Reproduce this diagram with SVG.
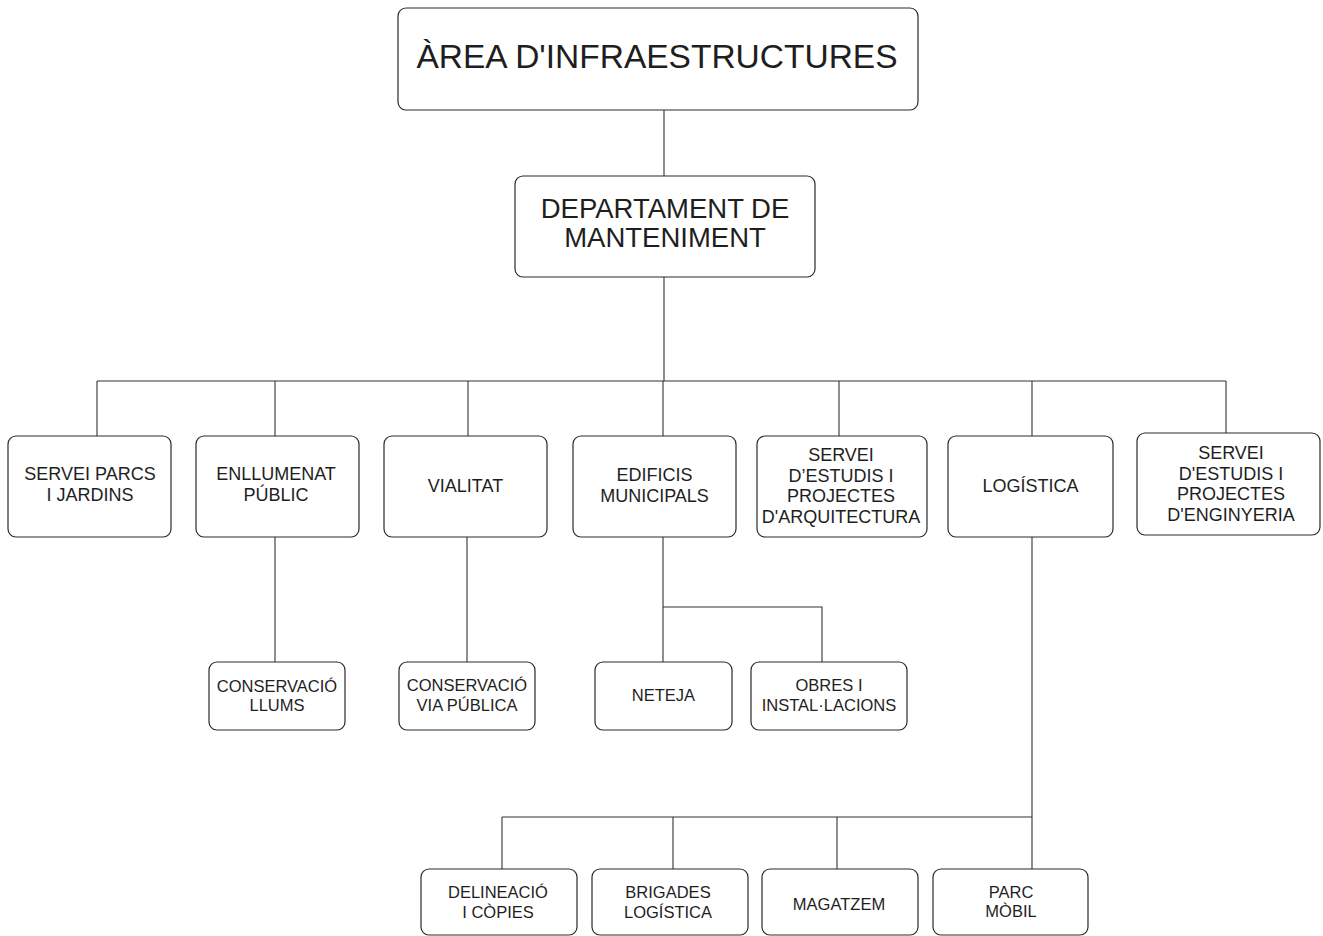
<svg xmlns="http://www.w3.org/2000/svg" width="1323" height="936" viewBox="0 0 1323 936">
<style>
  .box{fill:#fff;stroke:#2a2a2a;stroke-width:1.2}
  .t{font-family:"Liberation Sans",Arial,sans-serif;fill:#1e1e1e;text-anchor:middle}
  .s18{font-size:18px}
  .s16{font-size:16.5px}
  .c{fill:none;stroke:#333;stroke-width:1.1}
</style>
<rect width="1323" height="936" fill="#fff"/>
<g id="connectors" class="c">
  <path d="M664 110V176M664 277V381M97 381H1226"/>
  <path d="M97 381V436M275 381V436M468 381V436M663 381V436M839 381V436M1032 381V436M1226 381V433"/>
  <path d="M275 537V662M467 537V662M663 537V662M663 607H822V662"/>
  <path d="M1032 537V869M502 817H1032M502 817V869M673 817V869M837 817V869"/>
</g>
<g id="n-area"><rect class="box" x="398" y="8" width="520" height="102" rx="8"/><text class="t" x="657" y="68" font-size="33.5">ÀREA D'INFRAESTRUCTURES</text></g>
<g id="n-dept"><rect class="box" x="515" y="176" width="300" height="101" rx="8"/><text class="t" x="665" y="218" font-size="27.5">DEPARTAMENT DE</text><text class="t" x="665" y="247" font-size="27.5">MANTENIMENT</text></g>
<g id="n-parcs"><rect class="box" x="8" y="436" width="163" height="101" rx="8"/><text class="t s18" x="90" y="480">SERVEI PARCS</text><text class="t s18" x="90" y="501">I JARDINS</text></g>
<g id="n-enllumenat"><rect class="box" x="196" y="436" width="163" height="101" rx="8"/><text class="t s18" x="276" y="480">ENLLUMENAT</text><text class="t s18" x="276" y="501">PÚBLIC</text></g>
<g id="n-vialitat"><rect class="box" x="384" y="436" width="163" height="101" rx="8"/><text class="t s18" x="465.5" y="492">VIALITAT</text></g>
<g id="n-edificis"><rect class="box" x="573" y="436" width="163" height="101" rx="8"/><text class="t s18" x="654.5" y="481">EDIFICIS</text><text class="t s18" x="654.5" y="502">MUNICIPALS</text></g>
<g id="n-arquitectura"><rect class="box" x="757" y="436" width="170" height="101" rx="8"/><text class="t s18" x="841" y="461">SERVEI</text><text class="t s18" x="841" y="481.5">D’ESTUDIS I</text><text class="t s18" x="841" y="502">PROJECTES</text><text class="t s18" x="841" y="522.5">D'ARQUITECTURA</text></g>
<g id="n-logistica"><rect class="box" x="948" y="436" width="165" height="101" rx="8"/><text class="t s18" x="1030.5" y="492">LOGÍSTICA</text></g>
<g id="n-enginyeria"><rect class="box" x="1137" y="433" width="183" height="102" rx="8"/><text class="t s18" x="1231" y="459">SERVEI</text><text class="t s18" x="1231" y="480">D'ESTUDIS I</text><text class="t s18" x="1231" y="500">PROJECTES</text><text class="t s18" x="1231" y="521">D'ENGINYERIA</text></g>
<g id="n-llums"><rect class="box" x="209" y="662" width="136" height="68" rx="8"/><text class="t s16" x="277" y="692">CONSERVACIÓ</text><text class="t s16" x="277" y="711">LLUMS</text></g>
<g id="n-via"><rect class="box" x="399" y="662" width="136" height="68" rx="8"/><text class="t s16" x="467" y="691">CONSERVACIÓ</text><text class="t s16" x="467" y="711">VIA PÚBLICA</text></g>
<g id="n-neteja"><rect class="box" x="595" y="662" width="137" height="68" rx="8"/><text class="t s16" x="663.5" y="701">NETEJA</text></g>
<g id="n-obres"><rect class="box" x="751" y="662" width="156" height="68" rx="8"/><text class="t s16" x="829" y="691">OBRES I</text><text class="t s16" x="829" y="711">INSTAL·LACIONS</text></g>
<g id="n-delineacio"><rect class="box" x="421" y="869" width="156" height="66" rx="8"/><text class="t s16" x="498" y="898">DELINEACIÓ</text><text class="t s16" x="498" y="918">I CÒPIES</text></g>
<g id="n-brigades"><rect class="box" x="592" y="869" width="156" height="66" rx="8"/><text class="t s16" x="668" y="898">BRIGADES</text><text class="t s16" x="668" y="918">LOGÍSTICA</text></g>
<g id="n-magatzem"><rect class="box" x="762" y="869" width="156" height="66" rx="8"/><text class="t s16" x="839" y="910">MAGATZEM</text></g>
<g id="n-parcmobil"><rect class="box" x="933" y="869" width="155" height="66" rx="8"/><text class="t s16" x="1011" y="898">PARC</text><text class="t s16" x="1011" y="917">MÒBIL</text></g>
</svg>
